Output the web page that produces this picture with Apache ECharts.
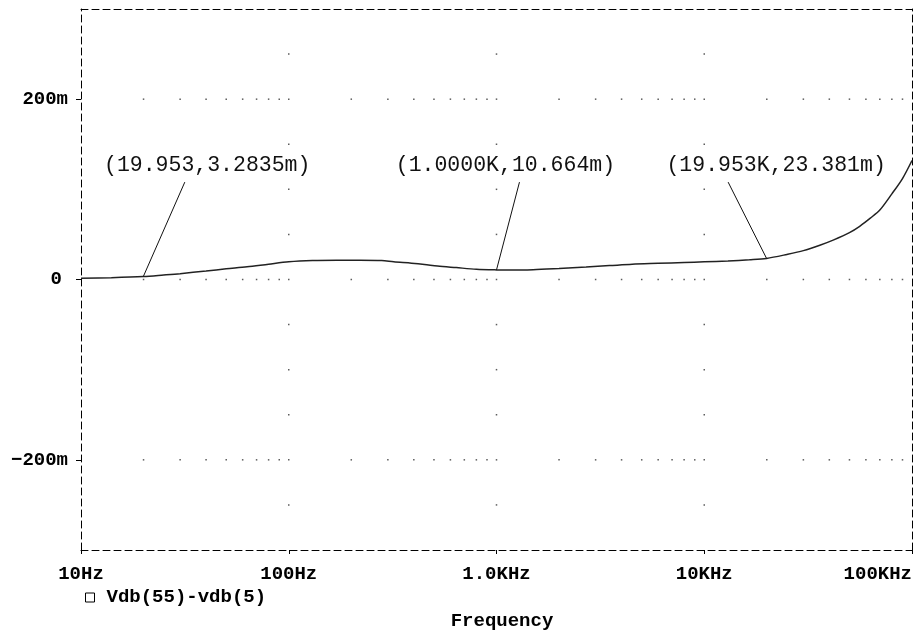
<!DOCTYPE html>
<html><head><meta charset="utf-8">
<script src="https://cdn.jsdelivr.net/npm/echarts@6/dist/echarts.min.js"></script>
<style>html,body{margin:0;padding:0;background:#fff}#c{width:913px;height:632px}</style>
</head><body><div id="c"></div>
<script>
// ---- data ----
const freqHz = [10, 14, 19.953, 25, 30, 40, 50, 63, 80, 100, 130, 170, 220, 280, 320, 390, 450, 520, 640, 800, 1000, 1200, 1500, 2000, 2700, 3500, 4500, 6000, 8000, 10000, 13000, 16500, 19953, 25000, 30000, 36000, 42000, 50000, 56000, 63000, 70000, 80000, 90000, 100000];
const diffMilli = [1.3, 2.0, 3.28, 5.0, 6.5, 9.4, 11.8, 14.1, 17.0, 19.6, 21.0, 21.3, 21.3, 21.0, 19.6, 18.1, 16.7, 14.9, 13.2, 11.4, 10.66, 10.4, 10.9, 12.3, 13.9, 15.4, 16.9, 17.9, 18.9, 19.6, 20.6, 21.9, 23.38, 27.8, 32, 38, 44, 52, 59, 68, 77, 95, 112, 132];
const seriesName = 'Vdb(55)-vdb(5)';
const xTickValues = [10, 100, 1000, 10000, 100000];
const xTickLabels = ['10Hz', '100Hz', '1.0KHz', '10KHz', '100KHz'];
const yTickValues = [-200, 0, 200];
const yTickLabels = ['\u2212200m', '{z|0}', '200m'];
const cursorFreq = [19.953, 1000, 19953];
const cursorVal = [3.2835, 10.664, 23.381];
const cursorText = ['(19.953,3.2835m)', '(1.0000K,10.664m)', '(19.953K,23.381m)'];
const leaderFreq = [31.6, 1290, 13030];
const leaderVal = [108, 108, 108];
const labelFreq = [40.5, 1104, 22180];
const labelVal = [126.7, 126.7, 126.7];
const gridDecades = [100, 1000, 10000];
const gridLevels = [-250, -200, -150, -100, -50, 0, 50, 100, 150, 200, 250];
const gridRows = [-200, 0, 200];
const minorMult = [2, 3, 4, 5, 6, 7, 8, 9];
const minorDecades = [10, 100, 1000, 10000];

// ---- build ----
const lineData = freqHz.map((f, i) => [f, diffMilli[i]]);
const dots = [];
gridDecades.forEach(d => gridLevels.forEach(v => dots.push([d, v])));
gridRows.forEach(r => minorDecades.forEach(d => minorMult.forEach(m => dots.push([d * m, r]))));

const boldFont = { fontFamily: 'Liberation Mono', fontWeight: 'bold', fontSize: 19, color: '#000' };
const dash = { color: '#000', width: 1, type: [7, 4] };

const chart = echarts.init(document.getElementById('c'), null, { renderer: 'canvas' });
chart.setOption({
  animation: false,
  backgroundColor: '#fff',
  grid: { left: 81, right: 1, top: 9, bottom: 82, containLabel: false, outerBoundsMode: 'none' },
  legend: {
    data: [seriesName], left: 85, top: 588, padding: 0, icon: 'rect', itemWidth: 9, itemHeight: 9,
    selectedMode: false,
    itemStyle: { color: '#fff', borderColor: '#000', borderWidth: 1 },
    textStyle: Object.assign({}, boldFont, { padding: [0, 0, 0, 7] })
  },
  xAxis: [{
    type: 'log', logBase: 10, min: 10, max: 100000,
    axisLine: { show: true, onZero: false, lineStyle: dash },
    axisTick: { show: true, inside: false, length: 4, customValues: xTickValues, lineStyle: { color: '#000' } },
    axisLabel: {
      customValues: xTickValues, margin: 15, alignMaxLabel: 'right',
      formatter: v => { const i = xTickValues.findIndex(t => Math.abs(t - v) / t < 1e-6); return i >= 0 ? xTickLabels[i] : ''; },
      ...boldFont
    },
    splitLine: { show: false },
    name: 'Frequency', nameLocation: 'middle', nameGap: 62,
    nameTextStyle: Object.assign({}, boldFont, { padding: [0, 0, 0, 11] })
  }, {
    type: 'log', logBase: 10, min: 10, max: 100000, position: 'top',
    axisLine: { show: true, onZero: false, lineStyle: dash },
    axisTick: { show: false }, axisLabel: { show: false }, splitLine: { show: false }
  }],
  yAxis: [{
    type: 'value', min: -300, max: 300, interval: 100,
    axisLine: { show: true, onZero: false, lineStyle: dash },
    axisTick: { show: true, length: 5, customValues: yTickValues, lineStyle: { color: '#000' } },
    axisLabel: {
      customValues: yTickValues, margin: 13,
      formatter: v => { const i = yTickValues.indexOf(Math.round(v)); return i >= 0 ? yTickLabels[i] : ''; },
      rich: { z: Object.assign({}, boldFont, { padding: [0, 6, 0, 0] }) },
      ...boldFont
    },
    splitLine: { show: false }
  }, {
    type: 'value', min: -300, max: 300, interval: 100, position: 'right',
    axisLine: { show: true, onZero: false, lineStyle: dash },
    axisTick: { show: false }, axisLabel: { show: false }, splitLine: { show: false }
  }],
  series: [{
    name: 'grid-dots', type: 'scatter', data: dots, symbol: 'rect', symbolSize: 1.5,
    itemStyle: { color: '#333' }, silent: true, z: 1
  }, {
    name: seriesName, type: 'line', data: lineData, showSymbol: false, smooth: 0.3,
    lineStyle: { color: '#222', width: 1.5 }, itemStyle: { color: '#222' }, z: 3,
    markLine: {
      silent: true, symbol: ['none', 'none'], label: { show: false },
      lineStyle: { color: '#111', width: 1, type: 'solid' },
      data: cursorFreq.map((f, i) => [{ coord: [leaderFreq[i], leaderVal[i]] }, { coord: [f, cursorVal[i]] }])
    },
    markPoint: {
      silent: true, symbol: 'circle', symbolSize: 0,
      data: labelFreq.map((f, i) => ({
        coord: [f, labelVal[i]],
        label: { show: true, position: 'inside', formatter: cursorText[i], fontFamily: 'Liberation Mono', fontSize: 21.5, color: '#111' }
      }))
    }
  }]
});
</script></body></html>
